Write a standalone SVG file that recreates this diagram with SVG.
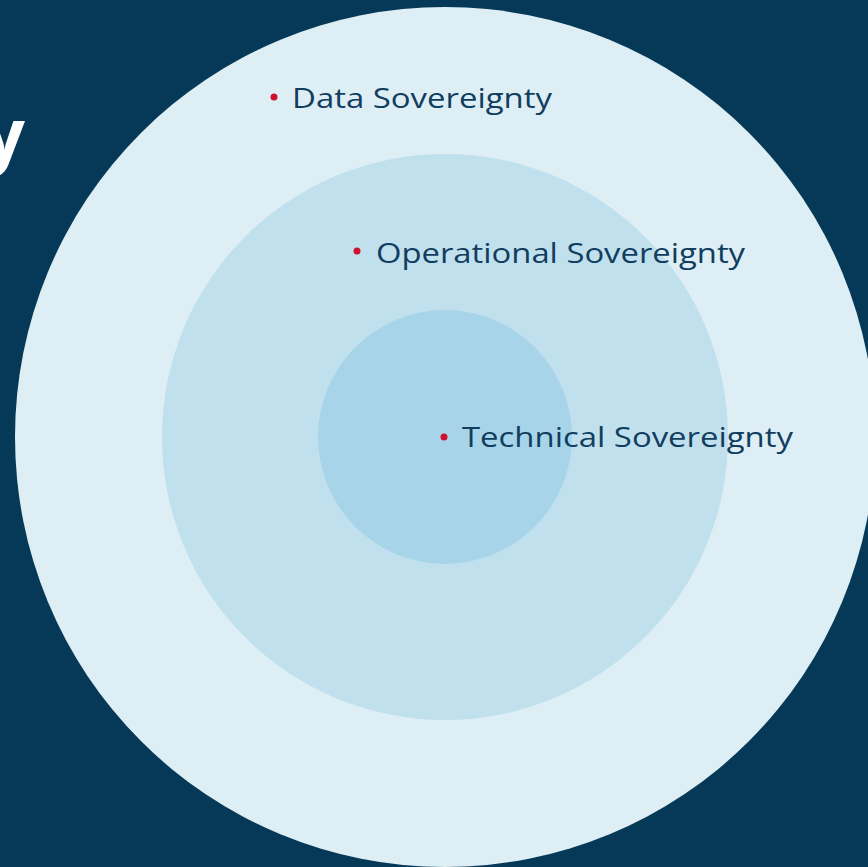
<svg xmlns="http://www.w3.org/2000/svg" width="868" height="867" viewBox="0 0 868 867">
<style>
.lbl{font-family:"Open Sans","Liberation Sans",sans-serif;font-size:28px;fill:#113D5E;}
.dot{fill:#D0102F;}
.ttl{font-family:"Open Sans","Liberation Sans",sans-serif;font-size:72px;font-weight:700;fill:#FFFFFF;}
</style>
<rect x="0" y="0" width="868" height="867" fill="#063857"/>
<text class="ttl" x="25" y="160" text-anchor="end">y</text>
<g id="outer">
<circle cx="445" cy="437" r="430" fill="#DDEEF5"/>
</g>
<g id="middle">
<circle cx="445" cy="437" r="283" fill="#C1E0EE"/>
</g>
<g id="inner">
<circle cx="445" cy="437" r="127" fill="#A8D4E9"/>
</g>
<g id="label-data">
<circle class="dot" cx="274" cy="97" r="3.5"/>
<text class="lbl" x="292" y="108" textLength="260" lengthAdjust="spacingAndGlyphs">Data Sovereignty</text>
</g>
<g id="label-operational">
<circle class="dot" cx="357" cy="251" r="3.5"/>
<text class="lbl" x="376" y="263" textLength="369" lengthAdjust="spacingAndGlyphs">Operational Sovereignty</text>
</g>
<g id="label-technical">
<circle class="dot" cx="444" cy="437" r="3.5"/>
<text class="lbl" x="462" y="447" textLength="331" lengthAdjust="spacingAndGlyphs">Technical Sovereignty</text>
</g>
<g id="connectors"></g>
</svg>
